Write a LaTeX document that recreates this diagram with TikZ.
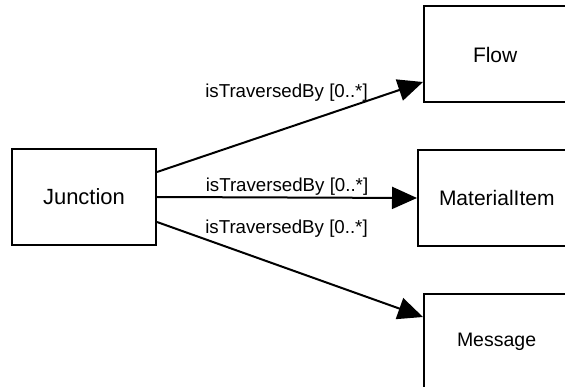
\documentclass[tikz,border=0pt]{standalone}
\usepackage{fontspec}
\setmainfont{Liberation Sans}
\usetikzlibrary{arrows.meta, positioning}
\tikzset{
  box/.style={
    rectangle,
    draw,
    line width=2pt,
    align=center,
    minimum height=96pt,
    font=\fontsize{21}{24}\selectfont
  },
  cutbox/.style={
    box,
    anchor=north west,
    align=left,
    text width=150pt
  },
  arrow/.style={-{Triangle[length=25pt, width=22pt]}, line width=2pt},
  lbl/.style={font=\fontsize{18.7}{22}\selectfont, inner sep=1pt}
}

\begin{document}
\begin{tikzpicture}[x=1pt, y=-1pt]
\useasboundingbox (0,0) rectangle (565,387);
\node[box, minimum width=144pt, font=\fontsize{22}{25}\selectfont] (junction) at (84,197) {Junction};
\node[cutbox, inner xsep=49pt] (flow) at (423,5.5) {Flow};
\node[cutbox, inner xsep=21pt] (materialitem) at (417,149) {MaterialItem};
\node[cutbox, inner xsep=33pt, font=\fontsize{19.5}{23}\selectfont] (message) at (423,293) {Message};

\draw[arrow] ([yshift=25pt]junction.east) -- node[lbl, above=23.5pt, xshift=-3.5pt] {isTraversedBy [0..*]} ([yshift=-27.5pt]flow.west);
\draw[arrow] (junction.east) -- node[lbl, above=0pt] {isTraversedBy [0..*]} (materialitem.west);
\draw[arrow] ([yshift=-25pt]junction.east) -- node[lbl, above=30pt, xshift=-3.5pt] {isTraversedBy [0..*]} ([yshift=25pt]message.west);
\end{tikzpicture}
\end{document}
